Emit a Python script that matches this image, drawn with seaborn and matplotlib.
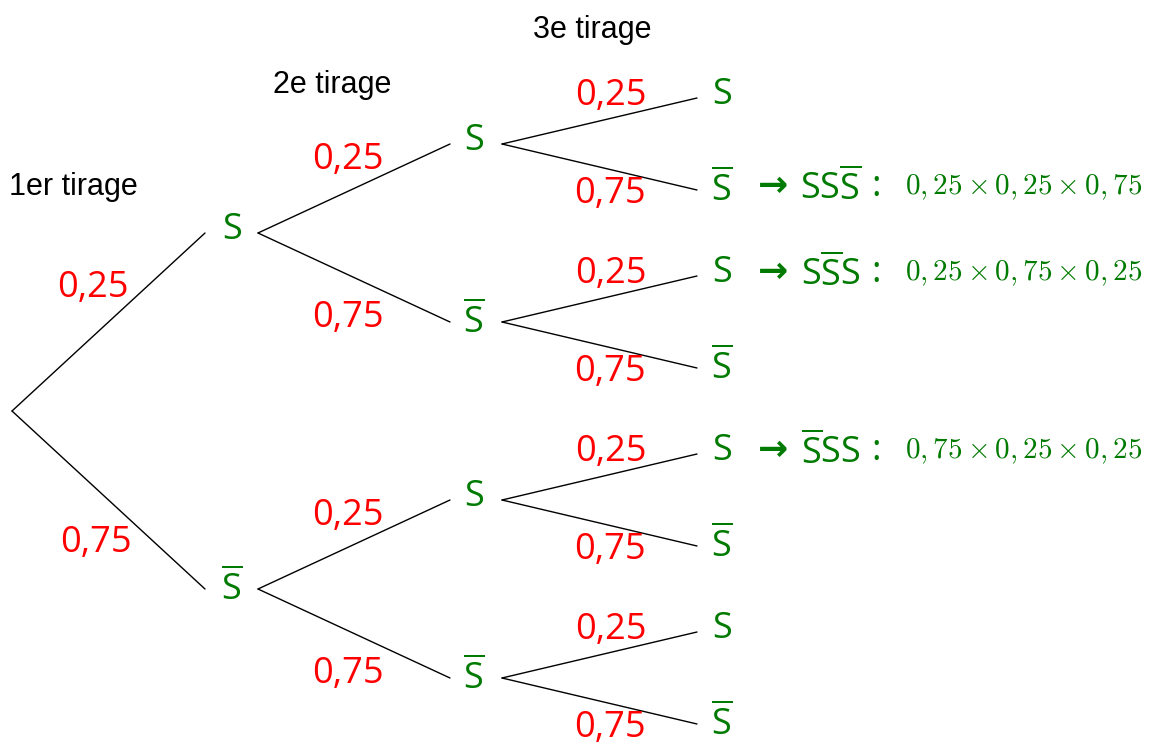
import matplotlib
matplotlib.use("Agg")
import matplotlib.pyplot as plt
import seaborn as sns

sns.set_theme(style="white")
plt.rcParams["font.family"] = ["Open Sans", "DejaVu Sans"]
plt.rcParams["mathtext.fontset"] = "custom"
plt.rcParams["mathtext.rm"] = "Open Sans"

# tree data
p_S = "0,25"
p_Sbar = "0,75"
headers = ["1er tirage", "2e tirage", "3e tirage"]
outcomes = ["S", "Sbar"]
# leaves (3rd draw) that are highlighted -> path name and product
highlight_leaf = [1, 2, 4]
highlight_name = [r"$\mathrm{SS\overline{S}}$", r"$\mathrm{S\overline{S}S}$", r"$\mathrm{\overline{S}SS}$"]
highlight_calc = [r"$0,25\times0,25\times0,75$", r"$0,25\times0,75\times0,25$", r"$0,75\times0,25\times0,25$"]

green = "#007a00"
red = "#ff0000"

# layout (pixel space)
leaf_centers = [144, 322, 500, 678]
half_gap = 46
x_end = [205, 450, 697]
x_node = [232, 474, 722]
x_start = [12, 258, 502]
# offsets of the probability labels (baseline) from branch midpoints
lab_off = [((-16, -25), (-13, 52)), ((-6, -20), (-6, 49)), ((11, -16), (10, 36))]
head_pos = [(73, 187), (332, 85), (592, 30)]

lvl3 = []
for c in leaf_centers:
    lvl3 += [c - half_gap, c + half_gap]
lvl2 = leaf_centers
lvl1 = [(lvl2[0] + lvl2[1]) / 2, (lvl2[2] + lvl2[3]) / 2]
root = (lvl1[0] + lvl1[1]) / 2
levels = [lvl1, lvl2, lvl3]
parents = [[root], lvl1, lvl2]

fig = plt.figure(figsize=(11.51, 7.46), dpi=100)
ax = fig.add_axes([0, 0, 1, 1])
ax.set_xlim(0, 1151)
ax.set_ylim(746, 0)
ax.axis("off")


def node_label(x, y, kind):
    if kind == "S":
        ax.text(x, y, "S", color=green, fontsize=26, ha="center", va="center")
    else:
        ax.text(x, y + 3, r"$\overline{\mathrm{S}}$", color=green, fontsize=26,
                ha="center", va="center")


for li, (ys, pys) in enumerate(zip(levels, parents)):
    for i, y in enumerate(ys):
        py = pys[i // 2]
        kind = outcomes[i % 2]
        ax.plot([x_start[li], x_end[li]], [py, y], color="black", lw=1)
        mx = (x_start[li] + x_end[li]) / 2
        my = (py + y) / 2
        dx, dy = lab_off[li][i % 2]
        ax.text(mx + dx, my + dy, p_S if kind == "S" else p_Sbar, color=red,
                fontsize=26, ha="center", va="baseline")
        node_label(x_node[li], y - 3, kind)

for (hx, hy), h in zip(head_pos, headers):
    ax.text(hx, hy, h, fontsize=22, ha="center", va="center", color="black",
            family="Liberation Sans")

for leaf, name, calc in zip(highlight_leaf, highlight_name, highlight_calc):
    y = lvl3[leaf]
    ax.text(773, y - 4, "\u2192", color=green, fontsize=26, ha="center", va="center",
            family="DejaVu Sans", fontweight="bold")
    ax.text(831, y - 1, name, color=green, fontsize=26, ha="center", va="center")
    ax.text(876, y - 3, ":", color=green, fontsize=26, ha="center", va="center")
    ax.text(905, y - 3, calc, color=green, fontsize=21, ha="left", va="center",
            math_fontfamily="cm")

fig.savefig("out.png", dpi=100, facecolor="white")
